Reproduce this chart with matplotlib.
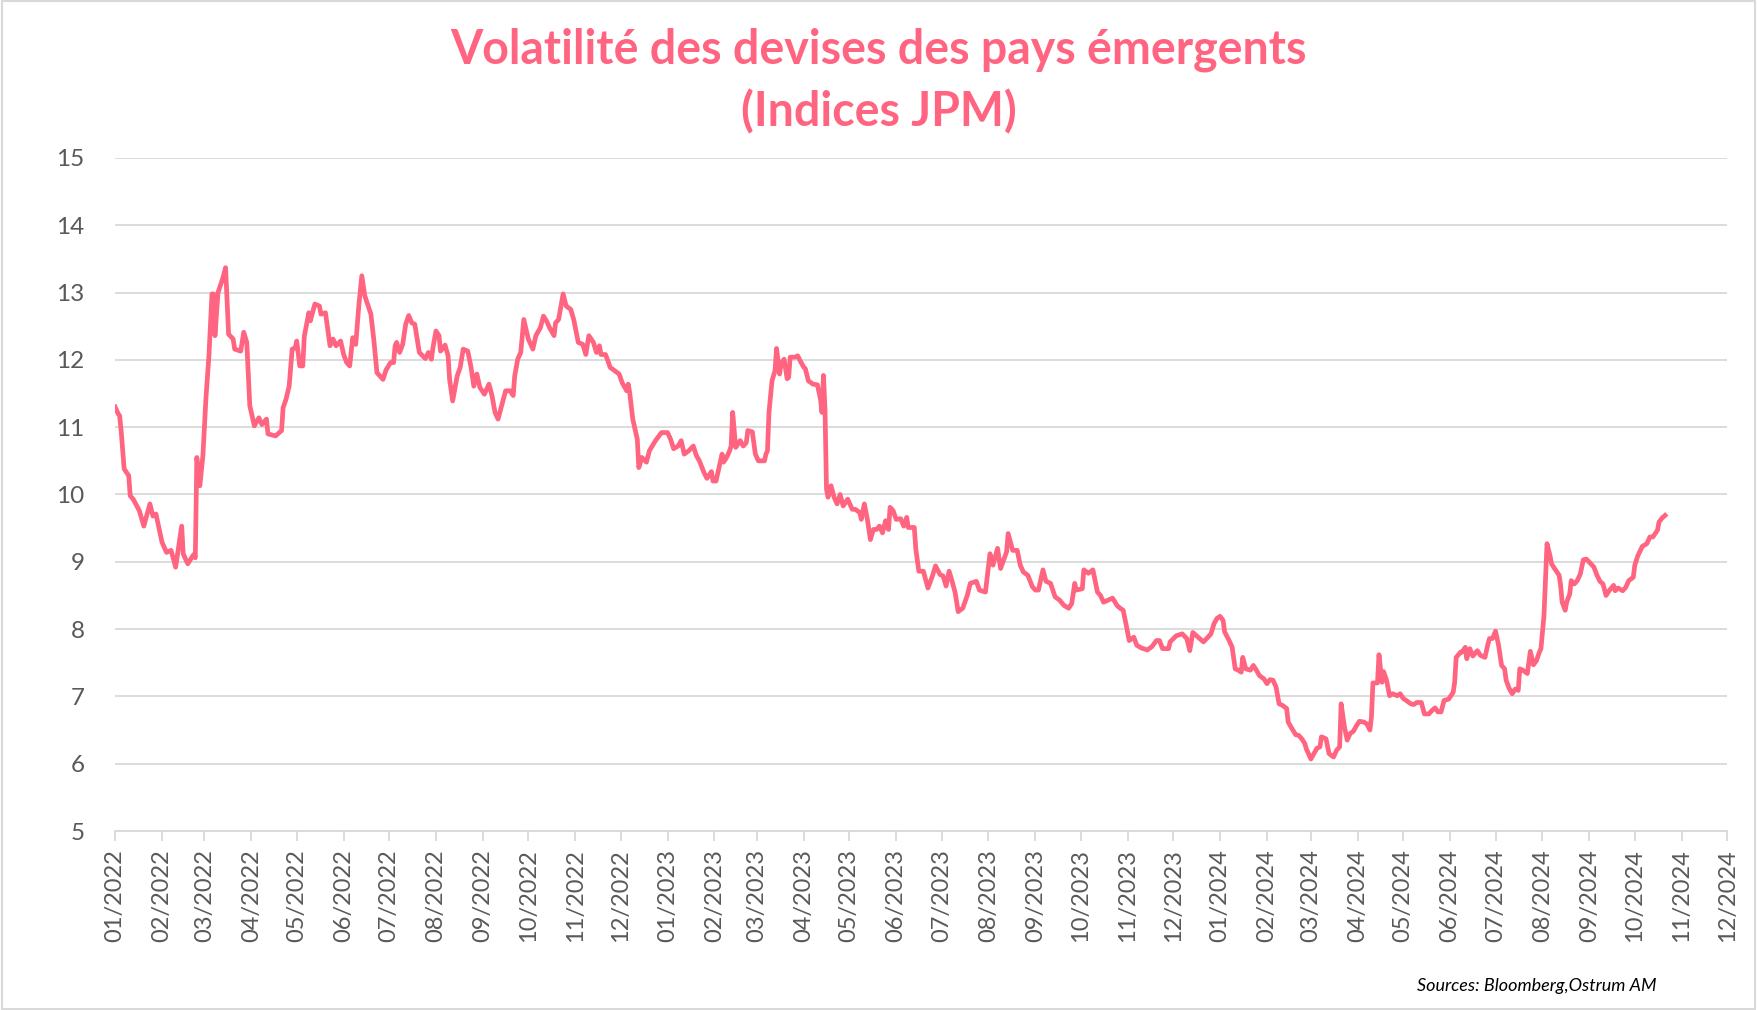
import matplotlib
matplotlib.use("Agg")
import matplotlib.pyplot as plt
import matplotlib.dates as mdates
import pandas as pd

# data
dates = [
    "2022-01-01", "2022-01-03", "2022-01-04", "2022-01-05", "2022-01-07", "2022-01-10", "2022-01-11", "2022-01-13",
    "2022-01-17", "2022-01-20", "2022-01-24", "2022-01-26", "2022-01-28", "2022-02-01", "2022-02-04", "2022-02-07",
    "2022-02-10", "2022-02-14", "2022-02-15", "2022-02-18", "2022-02-22", "2022-02-23", "2022-02-24", "2022-02-26",
    "2022-02-28", "2022-03-02", "2022-03-04", "2022-03-06", "2022-03-07", "2022-03-08", "2022-03-10", "2022-03-13",
    "2022-03-15", "2022-03-17", "2022-03-20", "2022-03-21", "2022-03-25", "2022-03-27", "2022-03-29", "2022-03-31",
    "2022-04-03", "2022-04-06", "2022-04-08", "2022-04-11", "2022-04-12", "2022-04-17", "2022-04-21", "2022-04-22",
    "2022-04-24", "2022-04-26", "2022-04-28", "2022-04-30", "2022-05-01", "2022-05-03", "2022-05-05", "2022-05-06",
    "2022-05-09", "2022-05-10", "2022-05-13", "2022-05-16", "2022-05-17", "2022-05-20", "2022-05-23", "2022-05-25",
    "2022-05-27", "2022-05-30", "2022-06-01", "2022-06-03", "2022-06-05", "2022-06-07", "2022-06-09", "2022-06-11",
    "2022-06-13", "2022-06-15", "2022-06-19", "2022-06-21", "2022-06-23", "2022-06-27", "2022-06-29", "2022-07-02",
    "2022-07-04", "2022-07-05", "2022-07-06", "2022-07-08", "2022-07-10", "2022-07-12", "2022-07-14", "2022-07-16",
    "2022-07-18", "2022-07-21", "2022-07-25", "2022-07-27", "2022-07-29", "2022-07-30", "2022-08-01", "2022-08-03",
    "2022-08-04", "2022-08-07", "2022-08-09", "2022-08-10", "2022-08-12", "2022-08-15", "2022-08-17", "2022-08-19",
    "2022-08-22", "2022-08-24", "2022-08-26", "2022-08-28", "2022-08-30", "2022-09-02", "2022-09-05", "2022-09-07",
    "2022-09-09", "2022-09-11", "2022-09-13", "2022-09-16", "2022-09-19", "2022-09-21", "2022-09-22", "2022-09-24",
    "2022-09-26", "2022-09-28", "2022-10-01", "2022-10-04", "2022-10-06", "2022-10-09", "2022-10-11", "2022-10-13",
    "2022-10-15", "2022-10-18", "2022-10-19", "2022-10-21", "2022-10-24", "2022-10-26", "2022-10-29", "2022-10-31",
    "2022-11-03", "2022-11-06", "2022-11-08", "2022-11-10", "2022-11-13", "2022-11-15", "2022-11-17", "2022-11-18",
    "2022-11-21", "2022-11-23", "2022-11-24", "2022-11-27", "2022-11-30", "2022-12-02", "2022-12-05", "2022-12-06",
    "2022-12-07", "2022-12-09", "2022-12-12", "2022-12-13", "2022-12-15", "2022-12-18", "2022-12-20", "2022-12-24",
    "2022-12-28", "2022-12-31",
    "2023-01-01", "2023-01-03", "2023-01-05", "2023-01-08", "2023-01-10", "2023-01-12", "2023-01-15", "2023-01-18",
    "2023-01-20", "2023-01-22", "2023-01-25", "2023-01-27", "2023-01-30", "2023-01-31", "2023-02-02", "2023-02-04",
    "2023-02-06", "2023-02-07", "2023-02-09", "2023-02-11", "2023-02-12", "2023-02-13", "2023-02-15", "2023-02-18",
    "2023-02-20", "2023-02-22", "2023-02-23", "2023-02-26", "2023-02-28", "2023-03-02", "2023-03-06", "2023-03-07",
    "2023-03-08", "2023-03-09", "2023-03-11", "2023-03-13", "2023-03-14", "2023-03-16", "2023-03-17", "2023-03-19",
    "2023-03-21", "2023-03-22", "2023-03-23", "2023-03-26", "2023-03-28", "2023-03-30", "2023-04-01", "2023-04-02",
    "2023-04-04", "2023-04-07", "2023-04-10", "2023-04-12", "2023-04-13", "2023-04-14", "2023-04-15", "2023-04-16",
    "2023-04-17", "2023-04-19", "2023-04-21", "2023-04-23", "2023-04-25", "2023-04-27", "2023-04-30", "2023-05-03",
    "2023-05-05", "2023-05-08", "2023-05-09", "2023-05-11", "2023-05-13", "2023-05-15", "2023-05-17", "2023-05-19",
    "2023-05-21", "2023-05-23", "2023-05-25", "2023-05-27", "2023-05-28", "2023-05-30", "2023-06-01", "2023-06-04",
    "2023-06-06", "2023-06-08", "2023-06-09", "2023-06-13", "2023-06-14", "2023-06-16", "2023-06-19", "2023-06-22",
    "2023-06-25", "2023-06-27", "2023-06-30", "2023-07-02", "2023-07-04", "2023-07-06", "2023-07-08", "2023-07-10",
    "2023-07-12", "2023-07-15", "2023-07-18", "2023-07-20", "2023-07-24", "2023-07-26", "2023-07-30", "2023-08-02",
    "2023-08-04", "2023-08-07", "2023-08-09", "2023-08-13", "2023-08-14", "2023-08-17", "2023-08-20", "2023-08-22",
    "2023-08-24", "2023-08-27", "2023-08-30", "2023-09-01", "2023-09-03", "2023-09-06", "2023-09-08", "2023-09-11",
    "2023-09-14", "2023-09-17", "2023-09-20", "2023-09-23", "2023-09-25", "2023-09-27", "2023-09-28", "2023-10-02",
    "2023-10-03", "2023-10-06", "2023-10-09", "2023-10-12", "2023-10-14", "2023-10-16", "2023-10-19", "2023-10-22",
    "2023-10-25", "2023-10-27", "2023-10-29", "2023-10-31", "2023-11-02", "2023-11-05", "2023-11-07", "2023-11-10",
    "2023-11-14", "2023-11-17", "2023-11-20", "2023-11-22", "2023-11-24", "2023-11-28", "2023-11-29", "2023-12-03",
    "2023-12-07", "2023-12-10", "2023-12-12", "2023-12-14", "2023-12-18", "2023-12-21", "2023-12-24", "2023-12-26",
    "2023-12-28", "2023-12-30",
    "2024-01-01", "2024-01-03", "2024-01-04", "2024-01-07", "2024-01-09", "2024-01-11", "2024-01-13", "2024-01-15",
    "2024-01-16", "2024-01-18", "2024-01-21", "2024-01-23", "2024-01-25", "2024-01-27", "2024-01-30", "2024-02-01",
    "2024-02-03", "2024-02-05", "2024-02-07", "2024-02-09", "2024-02-11", "2024-02-14", "2024-02-15", "2024-02-17",
    "2024-02-20", "2024-02-22", "2024-02-24", "2024-02-26", "2024-02-27", "2024-03-01", "2024-03-03", "2024-03-05",
    "2024-03-07", "2024-03-08", "2024-03-11", "2024-03-13", "2024-03-16", "2024-03-18", "2024-03-20", "2024-03-21",
    "2024-03-23", "2024-03-25", "2024-03-27", "2024-03-29", "2024-03-31", "2024-04-02", "2024-04-05", "2024-04-07",
    "2024-04-09", "2024-04-10", "2024-04-11", "2024-04-14", "2024-04-15", "2024-04-17", "2024-04-18", "2024-04-20",
    "2024-04-22", "2024-04-24", "2024-04-27", "2024-04-29", "2024-05-01", "2024-05-03", "2024-05-06", "2024-05-08",
    "2024-05-10", "2024-05-13", "2024-05-15", "2024-05-18", "2024-05-20", "2024-05-22", "2024-05-24", "2024-05-26",
    "2024-05-28", "2024-05-31", "2024-06-03", "2024-06-04", "2024-06-05", "2024-06-08", "2024-06-09", "2024-06-11",
    "2024-06-12", "2024-06-14", "2024-06-16", "2024-06-19", "2024-06-21", "2024-06-24", "2024-06-26", "2024-06-27",
    "2024-06-29", "2024-07-01", "2024-07-03", "2024-07-05", "2024-07-07", "2024-07-08", "2024-07-10", "2024-07-12",
    "2024-07-14", "2024-07-16", "2024-07-17", "2024-07-19", "2024-07-22", "2024-07-24", "2024-07-26", "2024-07-28",
    "2024-07-30", "2024-07-31", "2024-08-02", "2024-08-03", "2024-08-04", "2024-08-06", "2024-08-07", "2024-08-09",
    "2024-08-12", "2024-08-13", "2024-08-14", "2024-08-16", "2024-08-17", "2024-08-19", "2024-08-20", "2024-08-22",
    "2024-08-24", "2024-08-26", "2024-08-28", "2024-08-30", "2024-09-02", "2024-09-04", "2024-09-06", "2024-09-08",
    "2024-09-10", "2024-09-12", "2024-09-14", "2024-09-17", "2024-09-18", "2024-09-20", "2024-09-23", "2024-09-25",
    "2024-09-27", "2024-09-30", "2024-10-01", "2024-10-03", "2024-10-06", "2024-10-09", "2024-10-11", "2024-10-13",
    "2024-10-16", "2024-10-17", "2024-10-19", "2024-10-21",
]

volatility = [
    11.30, 11.20, 11.17, 10.95, 10.38, 10.28, 9.98, 9.93,
    9.76, 9.53, 9.86, 9.68, 9.71, 9.29, 9.14, 9.17,
    8.92, 9.53, 9.12, 8.97, 9.11, 9.06, 10.55, 10.13,
    10.57, 11.42, 12.06, 12.98, 12.98, 12.36, 13.00, 13.20,
    13.37, 12.38, 12.31, 12.16, 12.13, 12.41, 12.26, 11.32,
    11.02, 11.14, 11.04, 11.12, 10.90, 10.87, 10.95, 11.29,
    11.42, 11.61, 12.16, 12.18, 12.28, 11.91, 11.91, 12.35,
    12.70, 12.58, 12.83, 12.80, 12.68, 12.70, 12.21, 12.31,
    12.21, 12.28, 12.08, 11.96, 11.91, 12.33, 12.23, 12.80,
    13.25, 12.95, 12.68, 12.28, 11.81, 11.71, 11.85, 11.96,
    11.96, 12.21, 12.26, 12.11, 12.23, 12.53, 12.66, 12.55,
    12.53, 12.11, 12.02, 12.11, 12.01, 12.18, 12.43, 12.36,
    12.13, 12.22, 12.06, 11.71, 11.39, 11.76, 11.89, 12.16,
    12.13, 11.91, 11.61, 11.79, 11.59, 11.49, 11.64, 11.47,
    11.22, 11.12, 11.29, 11.54, 11.54, 11.47, 11.76, 12.01,
    12.11, 12.60, 12.31, 12.16, 12.36, 12.48, 12.65, 12.58,
    12.48, 12.36, 12.55, 12.60, 12.98, 12.80, 12.75, 12.60,
    12.26, 12.23, 12.08, 12.36, 12.26, 12.11, 12.21, 12.08,
    12.08, 11.96, 11.89, 11.84, 11.79, 11.66, 11.54, 11.64,
    11.51, 11.12, 10.82, 10.40, 10.55, 10.48, 10.65, 10.80,
    10.92, 10.92,
    10.92, 10.82, 10.68, 10.72, 10.80, 10.60, 10.65, 10.72,
    10.58, 10.50, 10.33, 10.24, 10.34, 10.20, 10.20, 10.40,
    10.60, 10.48, 10.55, 10.65, 10.72, 11.22, 10.70, 10.80,
    10.72, 10.77, 10.95, 10.93, 10.60, 10.50, 10.50, 10.60,
    10.65, 11.22, 11.69, 11.84, 12.17, 11.79, 11.94, 12.01,
    11.72, 11.74, 12.04, 12.04, 12.06, 11.97, 11.89, 11.87,
    11.69, 11.64, 11.63, 11.42, 11.22, 11.77, 11.27, 10.08,
    9.96, 10.13, 9.96, 9.86, 10.00, 9.83, 9.93, 9.78,
    9.78, 9.73, 9.63, 9.86, 9.63, 9.33, 9.48, 9.48,
    9.53, 9.43, 9.61, 9.48, 9.81, 9.76, 9.63, 9.64,
    9.53, 9.66, 9.51, 9.51, 9.19, 8.86, 8.86, 8.61,
    8.79, 8.94, 8.81, 8.79, 8.64, 8.86, 8.71, 8.54,
    8.26, 8.31, 8.50, 8.68, 8.71, 8.58, 8.55, 9.12,
    8.95, 9.20, 8.90, 9.15, 9.42, 9.17, 9.17, 8.95,
    8.85, 8.80, 8.63, 8.58, 8.58, 8.88, 8.71, 8.68,
    8.48, 8.43, 8.35, 8.31, 8.38, 8.68, 8.58, 8.60,
    8.88, 8.83, 8.88, 8.55, 8.50, 8.40, 8.43, 8.46,
    8.35, 8.31, 8.28, 8.06, 7.83, 7.88, 7.76, 7.72,
    7.69, 7.74, 7.83, 7.83, 7.71, 7.71, 7.81, 7.90,
    7.93, 7.86, 7.68, 7.95, 7.87, 7.81, 7.88, 7.93,
    8.08, 8.16,
    8.19, 8.13, 7.96, 7.83, 7.73, 7.41, 7.39, 7.36,
    7.58, 7.41, 7.39, 7.46, 7.39, 7.31, 7.26, 7.19,
    7.25, 7.24, 7.14, 6.89, 6.87, 6.82, 6.62, 6.54,
    6.43, 6.42, 6.37, 6.30, 6.22, 6.07, 6.15, 6.23,
    6.25, 6.40, 6.37, 6.15, 6.10, 6.20, 6.25, 6.89,
    6.57, 6.35, 6.45, 6.48, 6.56, 6.63, 6.62, 6.59,
    6.50, 6.69, 7.20, 7.20, 7.62, 7.21, 7.37, 7.24,
    7.01, 7.04, 7.01, 7.04, 6.97, 6.94, 6.89, 6.88,
    6.91, 6.91, 6.74, 6.74, 6.79, 6.83, 6.77, 6.77,
    6.94, 6.96, 7.06, 7.21, 7.58, 7.66, 7.66, 7.73,
    7.56, 7.71, 7.60, 7.68, 7.61, 7.58, 7.78, 7.86,
    7.86, 7.97, 7.76, 7.46, 7.41, 7.24, 7.12, 7.04,
    7.11, 7.09, 7.41, 7.39, 7.34, 7.67, 7.47, 7.53,
    7.66, 7.71, 8.20, 8.75, 9.27, 9.09, 8.97, 8.90,
    8.80, 8.65, 8.40, 8.28, 8.40, 8.52, 8.72, 8.67,
    8.72, 8.82, 9.03, 9.04, 8.97, 8.92, 8.80, 8.71,
    8.67, 8.50, 8.57, 8.65, 8.57, 8.61, 8.57, 8.62,
    8.72, 8.77, 8.95, 9.09, 9.23, 9.27, 9.37, 9.37,
    9.47, 9.59, 9.65, 9.69,
]

y_ticks = [5, 6, 7, 8, 9, 10, 11, 12, 13, 14, 15]
title_lines = ["Volatilité des devises des pays émergents", "(Indices JPM)"]
source = "Sources: Bloomberg,Ostrum AM"

pink = "#FF6480"
grey_txt = "#595959"
grid_col = "#D9D9D9"

plt.rcParams["font.family"] = ["Lato", "DejaVu Sans"]

fig = plt.figure(figsize=(17.57, 10.10), dpi=100)
ax = fig.add_axes([0.0655, 0.1772, 0.9175, 0.6664])

x = pd.to_datetime(dates)
ax.plot(x, volatility, color=pink, lw=3.4, solid_joinstyle="round", zorder=3)

ax.set_ylim(5, 15)
ax.set_yticks(y_ticks)
ax.set_xlim(pd.Timestamp("2022-01-01"), pd.Timestamp("2024-12-01"))
ax.xaxis.set_major_locator(mdates.MonthLocator())
ax.xaxis.set_major_formatter(mdates.DateFormatter("%m/%Y"))

ax.grid(axis="y", color=grid_col, lw=1.3)
ax.set_axisbelow(True)
for s in ["top", "right", "left"]:
    ax.spines[s].set_visible(False)
ax.spines["bottom"].set_color(grid_col)
ax.spines["bottom"].set_linewidth(1.3)

ax.tick_params(axis="y", length=0, pad=22, labelsize=17.5, labelcolor=grey_txt)
ax.tick_params(axis="x", direction="out", length=7, width=1.3, color=grid_col,
               pad=6, labelsize=17, labelcolor=grey_txt, labelrotation=90)

# title, one text per line
fig.text(0.5, 0.951, title_lines[0], ha="center", va="center", fontsize=33.5,
         fontweight="bold", color=pink)
fig.text(0.5, 0.889, title_lines[1], ha="center", va="center", fontsize=33.5,
         fontweight="bold", color=pink)
fig.text(0.943, 0.024, source, ha="right", va="center", fontsize=13,
         style="italic", color="black")

# thin frame round the whole chart
fig.patches.append(plt.Rectangle((0.001, 0.001), 0.998, 0.998, transform=fig.transFigure,
                                 fill=False, edgecolor=grid_col, lw=1.5))

fig.savefig("out.png", dpi=100)
